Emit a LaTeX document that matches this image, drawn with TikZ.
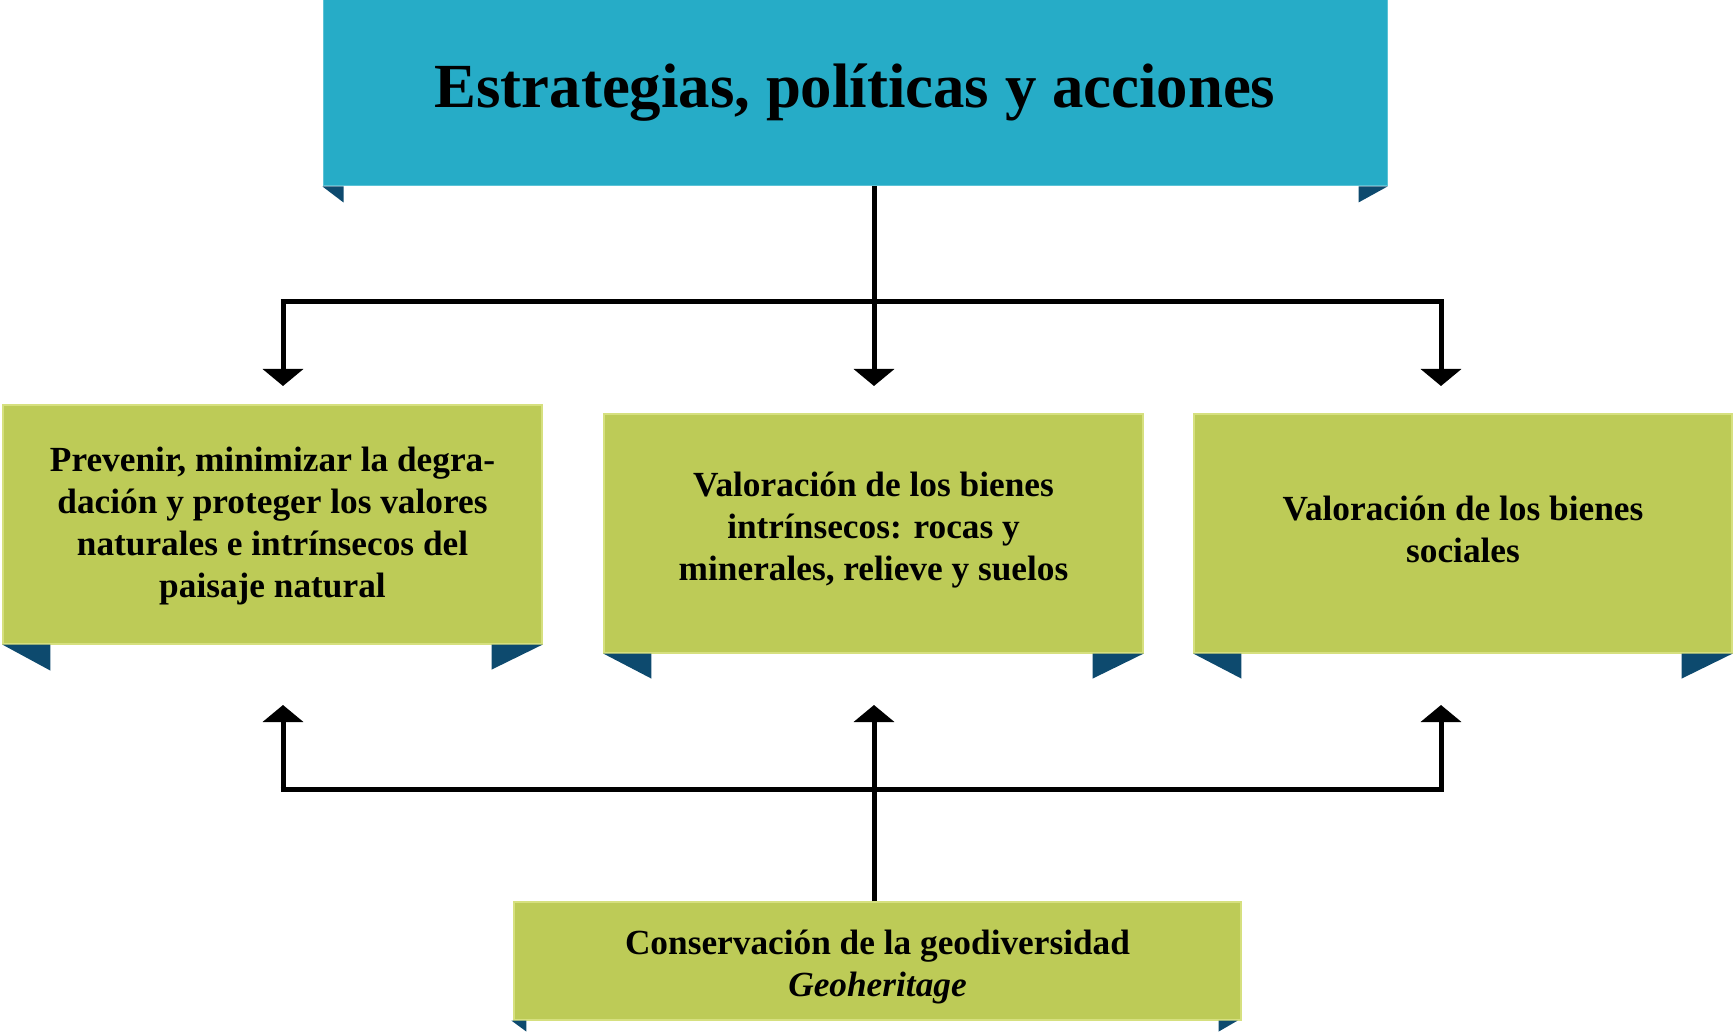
\documentclass[tikz,border=0pt]{standalone}
\usepackage{fontspec}
\setmainfont{Liberation Serif}
\usetikzlibrary{arrows.meta}
\definecolor{teal}{HTML}{26ACC7}
\definecolor{tealedge}{HTML}{5CC3D6}
\definecolor{leaf}{HTML}{BDCB57}
\definecolor{leafedge}{HTML}{D6E07F}
\definecolor{foldblue}{HTML}{0D4A6E}
\newcommand{\shiftedtext}[2]{\raisebox{#1}[\height][\depth]{\begin{tabular}{@{}c@{}}#2\end{tabular}}}
\tikzset{
  titlebox/.style={fill=teal, draw=tealedge, line width=1pt, minimum width=1064pt, minimum height=186pt, inner sep=0pt, align=center, font=\bfseries\fontsize{62.8}{70}\selectfont},
  leafbox/.style={fill=leaf, draw=leafedge, line width=1.2pt, inner sep=0pt, align=center, font=\bfseries\fontsize{35.3}{42}\selectfont},
  fold/.style={fill=foldblue, draw=none},
  conn/.style={line width=5pt, line cap=butt},
  arr/.style={conn, -{Triangle[width=40pt,length=17pt]}},
}
\begin{document}
\begin{tikzpicture}[x=1pt,y=-1pt]
\useasboundingbox (0,0) rectangle (1733,1032);
% boxes
\node[titlebox] (top) at (855,93) {Estrategias, políticas y acciones};
\node[leafbox, minimum width=539pt, minimum height=239pt] (left) at (272.5,524.5) {\shiftedtext{-2pt}{Prevenir, minimizar la degra-\\dación y proteger los valores\\naturales e intrínsecos del\\paisaje natural}};
\node[leafbox, minimum width=539pt, minimum height=239pt] (mid) at (873.5,533.5) {\shiftedtext{3pt}{Valoración de los bienes\\intrínsecos: rocas y\\minerales, relieve y suelos}};
\node[leafbox, minimum width=538pt, minimum height=239pt] (right) at (1463,533.5) {\shiftedtext{0.5pt}{Valoración de los bienes\\sociales}};
\node[leafbox, minimum width=727pt, minimum height=118pt] (bot) at (877.5,961) {\shiftedtext{-6.5pt}{Conservación de la geodiversidad\\\itshape Geoheritage}};
% folds
\fill[fold] (top.south west) -- ++(21,0) -- ++(0,16) -- cycle;
\fill[fold] (top.south east) -- ++(-29,0) -- ++(0,16) -- cycle;
\fill[fold] (left.south west) -- ++(48,0) -- ++(0,26) -- cycle;
\fill[fold] (left.south east) -- ++(-51,0) -- ++(0,25) -- cycle;
\fill[fold] (mid.south west) -- ++(48,0) -- ++(0,25) -- cycle;
\fill[fold] (mid.south east) -- ++(-51,0) -- ++(0,25) -- cycle;
\fill[fold] (right.south west) -- ++(48,0) -- ++(0,25) -- cycle;
\fill[fold] (right.south east) -- ++(-51,0) -- ++(0,25) -- cycle;
\fill[fold] (bot.south west) ++(-2,0) -- ++(15,0) -- ++(0,11) -- cycle;
\fill[fold] (bot.south east) ++(-4,0) -- ++(-19,0) -- ++(0,11) -- cycle;
% connector coordinates
\coordinate (jT) at (874,302);
\coordinate (jTL) at (283,302);
\coordinate (jTR) at (1441,302);
\coordinate (tL) at (283,386);
\coordinate (tM) at (874,386);
\coordinate (tR) at (1441,386);
\coordinate (jB) at (874,789);
\coordinate (jBL) at (283,789);
\coordinate (jBR) at (1441,789);
\coordinate (uL) at (283,705);
\coordinate (uM) at (874,705);
\coordinate (uR) at (1441,705);
% top connectors
\draw[conn] (top.south -| jT) -- (jT);
\draw[conn] ([xshift=-2.5pt]jTL) -- ([xshift=2.5pt]jTR);
\draw[arr] ([yshift=-2.5pt]jTL) -- (tL);
\draw[arr] (jT) -- (tM);
\draw[arr] ([yshift=-2.5pt]jTR) -- (tR);
% bottom connectors
\draw[conn] (bot.north -| jB) -- (jB);
\draw[conn] ([xshift=-2.5pt]jBL) -- ([xshift=2.5pt]jBR);
\draw[arr] ([yshift=2.5pt]jBL) -- (uL);
\draw[arr] (jB) -- (uM);
\draw[arr] ([yshift=2.5pt]jBR) -- (uR);
\end{tikzpicture}
\end{document}
